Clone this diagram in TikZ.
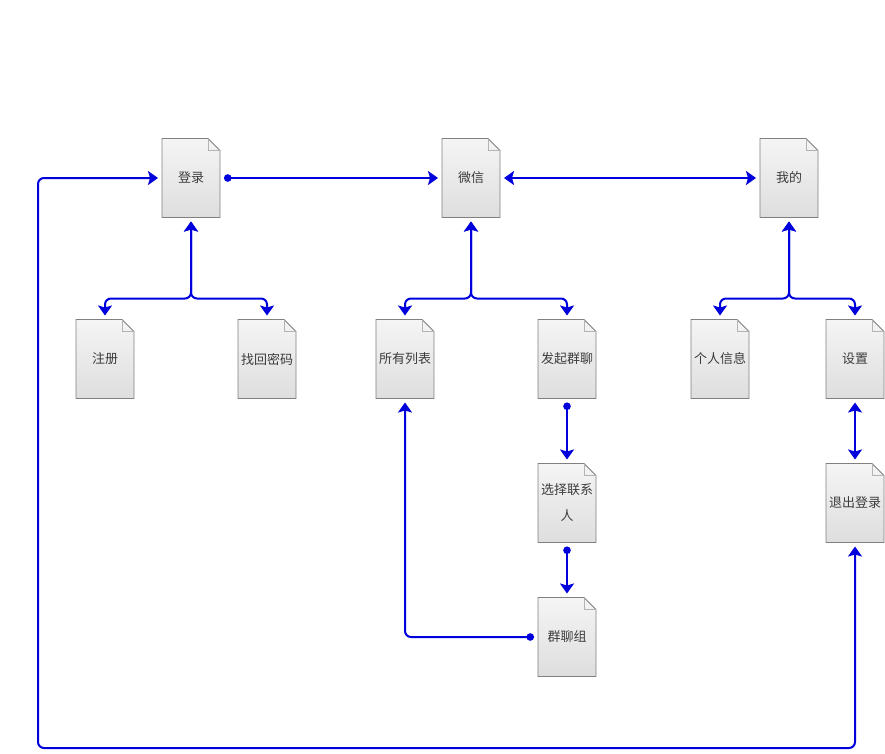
\documentclass[tikz,border=0pt]{standalone}
\usepackage{fontspec}
\newfontfamily\cjk{Noto Sans CJK SC}
\usepackage{tikz}
\usetikzlibrary{arrows.meta,positioning,calc,backgrounds}
\definecolor{linkblue}{RGB}{0,0,220}
\definecolor{docedge}{RGB}{128,128,128}
\definecolor{doctext}{RGB}{60,60,60}

\begin{document}
\begin{tikzpicture}[x=1pt,y=-1pt,line join=round,
    doc/.style={minimum width=58pt,minimum height=79pt,inner sep=1pt,outer sep=4pt,
      align=center,font=\cjk\fontsize{13}{26}\selectfont,text=doctext},
    link/.style={draw=linkblue,line width=2pt,
      >={Stealth[length=10pt,width=14pt,inset=2pt]}},
    dotlink/.style={link,arrows={Circle[length=7.5pt]->}},
    elbow/.style={rounded corners=6pt}]
      \useasboundingbox (0,0) rectangle (885,753);
      % pages
      \node[doc] (denglu) at (191,178) {登录};
      \node[doc] (weixin) at (471,178) {微信};
      \node[doc] (wode) at (789,178) {我的};
      \node[doc] (zhuce) at (105,359) {注册};
      \node[doc] (zhaohui) at (267,359) {找回密码};
      \node[doc] (suoyou) at (405,359) {所有列表};
      \node[doc] (faqi) at (567,359) {发起群聊};
      \node[doc] (geren) at (720,359) {个人信息};
      \node[doc] (shezhi) at (855,359) {设置};
      \node[doc] (xuanze) at (567,503) {选择联系\\人};
      \node[doc] (tuichu) at (855,503) {退出登录};
      \node[doc] (qunliao) at (567,637) {群聊组};
      \coordinate (loop) at (38,748);
      \begin{scope}[on background layer]
        \foreach \n in {denglu,weixin,wode,zhuce,zhaohui,suoyou,faqi,geren,shezhi,xuanze,tuichu,qunliao}{
          \shadedraw[top color=black!4,bottom color=black!13,draw=docedge,line width=0.8pt]
            ($(\n)+(-29,39.5)$) -- ++(0,-79) -- ++(46,0) -- ++(12,12) -- ++(0,67) -- cycle;
          \draw[docedge!60,line width=0.5pt] ($(\n)+(17,-39.5)$) -- ++(0,12) -- ++(12,0);
        }
      \end{scope}
      % links
      \draw[dotlink] (denglu.east) -- (weixin.west);
      \draw[link,<->] (weixin.east) -- (wode.west);
      \draw[link,<->] (denglu.south) [elbow] |- ([yshift=17pt]zhuce.north) -- (zhuce.north) [sharp corners];
      \draw[link,<->] (denglu.south) [elbow] |- ([yshift=17pt]zhaohui.north) -- (zhaohui.north) [sharp corners];
      \draw[link,<->] (weixin.south) [elbow] |- ([yshift=17pt]suoyou.north) -- (suoyou.north) [sharp corners];
      \draw[link,<->] (weixin.south) [elbow] |- ([yshift=17pt]faqi.north) -- (faqi.north) [sharp corners];
      \draw[link,<->] (wode.south) [elbow] |- ([yshift=17pt]geren.north) -- (geren.north) [sharp corners];
      \draw[link,<->] (wode.south) [elbow] |- ([yshift=17pt]shezhi.north) -- (shezhi.north) [sharp corners];
      \draw[dotlink] (faqi.south) -- (xuanze.north);
      \draw[dotlink] (xuanze.south) -- (qunliao.north);
      \draw[dotlink] (qunliao.west) [elbow] -| (suoyou.south) [sharp corners];
      \draw[link,<->] (shezhi.south) -- (tuichu.north);
      \draw[link,<->] (denglu.west) [elbow] -| (loop) -| (tuichu.south) [sharp corners];
\end{tikzpicture}
\end{document}
